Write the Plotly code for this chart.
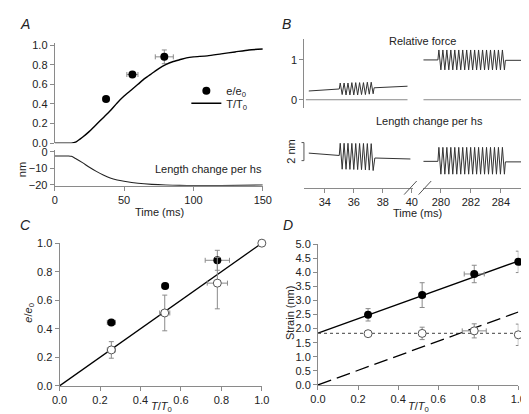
import numpy as np
import plotly.graph_objects as go

W, H = 529, 414
def X(px): return px / W
def Y(py): return 1 - py / H

FONT = "Liberation Sans"
AX = "#8a8a8a"
TXT = "#222222"
ERR = "#8a8a8a"

# ---------------- Panel A data ----------------
a_time = [0, 5, 10, 12, 15, 20, 25, 30, 35, 40, 45, 50, 55, 60, 65, 70, 75, 80,
          85, 90, 95, 100, 110, 120, 130, 140, 150]
a_force = [0, 0, 0, 0, 0.01, 0.06, 0.12, 0.19, 0.26, 0.33, 0.41, 0.48, 0.54, 0.60,
           0.66, 0.71, 0.76, 0.80, 0.83, 0.85, 0.87, 0.88, 0.89, 0.91, 0.93, 0.95, 0.96]
a_len_time = [0, 10, 12, 15, 20, 25, 30, 35, 40, 45, 50, 60, 70, 80, 90, 100, 120, 150]
a_len = [-2.5, -2.5, -2.7, -4.0, -6.5, -9.3, -11.8, -14.0, -15.8, -17.0, -17.8,
         -19.0, -19.7, -20.1, -20.3, -20.4, -20.4, -20.1]
a_pt_t = [37, 56, 79]
a_pt_e = [0.45, 0.70, 0.88]
a_pt_terr = [2, 4, 6.5]
a_pt_eerr = [0.01, 0.015, 0.07]

# ---------------- Panel B data ----------------
# left window (ms)
bl_pre_t = [32.9, 35.0]
bl_force_pre = [0.22, 0.27]
bl_force_osc = [0.42, 0.13, 0.42, 0.12, 0.42, 0.12, 0.43, 0.12, 0.43, 0.12,
                0.43, 0.13, 0.43, 0.13, 0.44, 0.14, 0.44, 0.15]
bl_post_t = [37.4, 39.7]
bl_force_post = [0.30, 0.34]
bl_len_pre = [0.83, 0.57]
bl_len_osc = [1.92, -0.95, 1.92, -0.96, 1.92, -0.97, 1.91, -0.98, 1.90, -0.99,
              1.90, -1.00, 1.90, -1.02, 1.89, -1.05, 1.88, -1.10]
bl_len_post_t = [37.45, 39.9]
bl_len_post = [0.29, 0.18]
bl_osc_window = [35.0, 37.4]
bl_zero_t = [32.7, 39.7]

# right window (ms)
br_pre_t = [278.65, 279.8]
br_force_pre = [1.0, 1.0]
br_force_osc = [1.25, 0.75] * 17
br_post_t = [284.3, 285.35]
br_force_post = [0.99, 0.99]
br_len_pre = [-0.08, -0.08]
br_len_osc = [1.47, -1.50] * 17
br_len_post = [-0.14, -0.14]
br_osc_window = [279.8, 284.3]
br_zero_t = [278.7, 285.4]

# ---------------- Panel C data ----------------
c_fill_x = [0.256, 0.522, 0.78]
c_fill_y = [0.445, 0.70, 0.88]
c_fill_xerr = [0.02, 0.016, 0.06]
c_fill_yerr = [0.01, 0.02, 0.07]
c_open_x = [0.256, 0.52, 0.78, 1.0]
c_open_y = [0.252, 0.511, 0.72, 1.0]
c_open_xerr = [0.02, 0.025, 0.05, 0]
c_open_yerr = [0.058, 0.125, 0.18, 0]
c_line_x = [0, 1]
c_line_y = [0, 1]

# ---------------- Panel D data ----------------
d_fill_x = [0.25, 0.52, 0.78, 1.0]
d_fill_y = [2.49, 3.19, 3.94, 4.37]
d_fill_xerr = [0.012, 0.015, 0.05, 0]
d_fill_yerr = [0.22, 0.44, 0.31, 0.38]
d_open_x = [0.25, 0.52, 0.78, 1.0]
d_open_y = [1.82, 1.83, 1.92, 1.78]
d_open_xerr = [0.015, 0.015, 0.06, 0]
d_open_yerr = [0.03, 0.22, 0.25, 0.38]
d_fit_x = [0, 1]
d_fit_y = [1.84, 4.40]
d_dot_y = [1.83, 1.83]
d_dash_y = [0, 2.59]


def osc_times(window, vals):
    n = len(vals)
    step = (window[1] - window[0]) / n
    return [window[0] + (k + 0.5) * step for k in range(n)]


def osc_trace(pre_t, pre_v, window, osc_v, post_t, post_v):
    t = list(pre_t) + osc_times(window, osc_v) + list(post_t)
    v = list(pre_v) + list(osc_v) + list(post_v)
    return t, v


fig = go.Figure()

# ---- A ----
fig.add_trace(go.Scatter(
    x=a_pt_t, y=a_pt_e, mode="markers", name="e/e<sub>0</sub>",
    marker=dict(color="black", size=8),
    error_x=dict(type="data", array=a_pt_terr, color=ERR, thickness=1, width=2.5),
    error_y=dict(type="data", array=a_pt_eerr, color=ERR, thickness=1, width=2.5),
    xaxis="x", yaxis="y", showlegend=True, legend="legend", cliponaxis=False))
fig.add_trace(go.Scatter(
    x=a_time, y=a_force, mode="lines", name="T/T<sub>0</sub>",
    line=dict(color="black", width=1.4, shape="spline", smoothing=0.6),
    xaxis="x", yaxis="y", showlegend=True, legend="legend2"))
fig.add_trace(go.Scatter(
    x=a_len_time, y=a_len, mode="lines",
    line=dict(color="#222", width=1.1, shape="spline", smoothing=0.6),
    xaxis="x2", yaxis="y2", showlegend=False))

# ---- B ----
TR = dict(color="#333", width=1)
t, v = osc_trace(bl_pre_t, bl_force_pre, bl_osc_window, bl_force_osc, bl_post_t, bl_force_post)
fig.add_trace(go.Scatter(x=t, y=v, mode="lines", line=TR, xaxis="x3", yaxis="y3", showlegend=False))
fig.add_trace(go.Scatter(x=bl_zero_t, y=[0, 0], mode="lines", line=dict(color=AX, width=1),
                         xaxis="x3", yaxis="y3", showlegend=False))
t, v = osc_trace(bl_pre_t, bl_len_pre, bl_osc_window, bl_len_osc, bl_len_post_t, bl_len_post)
fig.add_trace(go.Scatter(x=t, y=v, mode="lines", line=TR, xaxis="x3", yaxis="y5", showlegend=False))

t, v = osc_trace(br_pre_t, br_force_pre, br_osc_window, br_force_osc, br_post_t, br_force_post)
fig.add_trace(go.Scatter(x=t, y=v, mode="lines", line=TR, xaxis="x4", yaxis="y4", showlegend=False))
fig.add_trace(go.Scatter(x=br_zero_t, y=[0, 0], mode="lines", line=dict(color=AX, width=1),
                         xaxis="x4", yaxis="y4", showlegend=False))
t, v = osc_trace(br_pre_t, br_len_pre, br_osc_window, br_len_osc, br_post_t, br_len_post)
fig.add_trace(go.Scatter(x=t, y=v, mode="lines", line=TR, xaxis="x4", yaxis="y6", showlegend=False))

# ---- C ----
fig.add_trace(go.Scatter(x=c_line_x, y=c_line_y, mode="lines", line=dict(color="black", width=1.3),
                         xaxis="x7", yaxis="y7", showlegend=False))
fig.add_trace(go.Scatter(
    x=c_fill_x, y=c_fill_y, mode="markers", marker=dict(color="black", size=8),
    error_x=dict(type="data", array=c_fill_xerr, color=ERR, thickness=1, width=2.5),
    error_y=dict(type="data", array=c_fill_yerr, color=ERR, thickness=1, width=2.5),
    xaxis="x7", yaxis="y7", showlegend=False, cliponaxis=False))
fig.add_trace(go.Scatter(
    x=c_open_x, y=c_open_y, mode="markers",
    marker=dict(color="white", size=8, line=dict(color="#555", width=1)),
    error_x=dict(type="data", array=c_open_xerr, color=ERR, thickness=1, width=2.5),
    error_y=dict(type="data", array=c_open_yerr, color=ERR, thickness=1, width=2.5),
    xaxis="x7", yaxis="y7", showlegend=False, cliponaxis=False))

# ---- D ----
fig.add_trace(go.Scatter(x=d_fit_x, y=d_fit_y, mode="lines", line=dict(color="black", width=1.3),
                         xaxis="x8", yaxis="y8", showlegend=False))
fig.add_trace(go.Scatter(x=d_fit_x, y=d_dot_y, mode="lines", line=dict(color="#666", width=1.2, dash="dot"),
                         xaxis="x8", yaxis="y8", showlegend=False))
fig.add_trace(go.Scatter(x=d_fit_x, y=d_dash_y, mode="lines",
                         line=dict(color="black", width=1.3, dash="14px,6px"),
                         xaxis="x8", yaxis="y8", showlegend=False))
fig.add_trace(go.Scatter(
    x=d_fill_x, y=d_fill_y, mode="markers", marker=dict(color="black", size=8),
    error_x=dict(type="data", array=d_fill_xerr, color=ERR, thickness=1, width=2.5),
    error_y=dict(type="data", array=d_fill_yerr, color=ERR, thickness=1, width=2.5),
    xaxis="x8", yaxis="y8", showlegend=False, cliponaxis=False))
fig.add_trace(go.Scatter(
    x=d_open_x, y=d_open_y, mode="markers",
    marker=dict(color="white", size=8, line=dict(color="#555", width=1)),
    error_x=dict(type="data", array=d_open_xerr, color=ERR, thickness=1, width=2.5),
    error_y=dict(type="data", array=d_open_yerr, color=ERR, thickness=1, width=2.5),
    xaxis="x8", yaxis="y8", showlegend=False, cliponaxis=False))


def ax(**kw):
    d = dict(showline=True, linecolor=AX, linewidth=1, ticks="outside", ticklen=4,
             tickcolor=AX, tickwidth=1, showgrid=False, zeroline=False,
             tickfont=dict(size=11, color=TXT, family=FONT))
    d.update(kw)
    return d


tick01 = [0, 0.2, 0.4, 0.6, 0.8, 1.0]
ticklab01 = ["0.0", "0.2", "0.4", "0.6", "0.8", "1.0"]
tickD = [0, 0.5, 1, 1.5, 2, 2.5, 3, 3.5, 4, 4.5, 5]

# pixel-calibrated ranges
a_top_range = [0, (133 - 30) / 101]
a_bot_range = [-20 - 1 / 1.7, 2 / 1.7]
f_px = 41.0
f_range = [(88.3 - 96.5) / f_px, (88.3 - 26) / f_px]
l_px = 9.3
l_range = [(151 - 172) / l_px, (151 - 122) / l_px]
bl_range = [34 - (319 - 298) / 15.0, 34 + (410 - 319) / 15.0]
br_range = [280 - (439 - 421) / 15.5, 280 + (529 - 439) / 15.5]

LEG = dict(xanchor="left", yanchor="top", bgcolor="rgba(0,0,0,0)",
           font=dict(size=11, family=FONT, color=TXT), itemwidth=30,
           tracegroupgap=0, borderwidth=0)

fig.update_layout(
    width=W, height=H, margin=dict(l=0, r=0, t=0, b=0),
    paper_bgcolor="white", plot_bgcolor="rgba(0,0,0,0)",
    font=dict(family=FONT, size=11, color=TXT),
    showlegend=True,
    legend=dict(x=X(176), y=Y(64), **LEG),
    legend2=dict(x=X(176), y=Y(77), **LEG),
    # A top
    xaxis=dict(domain=[X(40), X(255)], range=[0, 150], visible=False, anchor="y"),
    yaxis=ax(domain=[Y(133), Y(30)], range=a_top_range, tickvals=tick01, ticktext=ticklab01, anchor="x"),
    # A bottom
    xaxis2=ax(domain=[X(40), X(255)], range=[0, 150], tickvals=[0, 50, 100, 150], anchor="y2"),
    yaxis2=ax(domain=[Y(177), Y(140)], range=a_bot_range, tickvals=[0, -10, -20],
              ticktext=["0", "\u221210", "\u221220"], anchor="x2"),
    # B left
    xaxis3=ax(domain=[X(298), X(410)], range=bl_range, tickvals=[34, 36, 38, 40],
              anchor="free", position=Y(179)),
    yaxis3=ax(domain=[Y(96.5), Y(26)], range=f_range, tickvals=[0, 1], anchor="x3"),
    yaxis5=dict(domain=[Y(172), Y(122)], range=l_range, visible=False, anchor="x3"),
    # B right
    xaxis4=ax(domain=[X(421), X(529)], range=br_range, tickvals=[280, 282, 284],
              anchor="free", position=Y(179)),
    yaxis4=dict(domain=[Y(96.5), Y(26)], range=f_range, visible=False, anchor="x4"),
    yaxis6=dict(domain=[Y(172), Y(122)], range=l_range, visible=False, anchor="x4"),
    # C
    xaxis7=ax(domain=[X(45), X(254)], range=[0, 1], tickvals=tick01, ticktext=ticklab01, anchor="y7"),
    yaxis7=ax(domain=[Y(383), Y(236)], range=[0, 1], tickvals=tick01, ticktext=ticklab01, anchor="x7"),
    # D
    xaxis8=ax(domain=[X(312), X(519)], range=[0, 1], tickvals=tick01, ticktext=ticklab01, anchor="y8"),
    yaxis8=ax(domain=[Y(382), Y(237)], range=[0, 5], tickvals=tickD, tickformat=".1f", anchor="x8"),
)

annots = [
    dict(text="<i>A</i>", x=X(2), y=Y(10), font=dict(size=14)),
    dict(text="<i>B</i>", x=X(273), y=Y(10), font=dict(size=14)),
    dict(text="<i>C</i>", x=X(2), y=Y(217), font=dict(size=14)),
    dict(text="<i>D</i>", x=X(274), y=Y(217), font=dict(size=14)),
    dict(text="Length change per hs", x=X(199), y=Y(160), xanchor="center"),
    dict(text="nm", x=X(7), y=Y(160), xanchor="center", textangle=-90),
    dict(text="Time (ms)", x=X(148), y=Y(204), xanchor="center"),
    dict(text="Relative force", x=X(420), y=Y(28), xanchor="center"),
    dict(text="Length change per hs", x=X(427), y=Y(110), xanchor="center"),
    dict(text="2 nm", x=X(284), y=Y(142), xanchor="center", textangle=-90),
    dict(text="Time (ms)", x=X(415), y=Y(205), xanchor="center"),
    dict(text="<i>T</i>/<i>T</i><sub>0</sub>", x=X(150), y=Y(405), xanchor="center"),
    dict(text="<i>e</i>/<i>e</i><sub>0</sub>", x=X(13), y=Y(308), xanchor="center", textangle=-90),
    dict(text="<i>T</i>/<i>T</i><sub>0</sub>", x=X(416), y=Y(405), xanchor="center"),
    dict(text="Strain (nm)", x=X(283), y=Y(308), xanchor="center", textangle=-90),
]
for a in annots:
    a.setdefault("xanchor", "left")
    a.update(xref="paper", yref="paper", yanchor="middle", showarrow=False)
    a["font"] = dict(family=FONT, color=TXT, size=a.get("font", {}).get("size", 11))
    fig.add_annotation(**a)

# scale bar and axis-break marks (decorations)
shapes = [
    dict(type="line", xref="paper", yref="y5", x0=X(297.5), x1=X(297.5), y0=0, y1=2),
    dict(type="line", xref="paper", yref="y5", x0=X(295), x1=X(297.5), y0=0, y1=0),
    dict(type="line", xref="paper", yref="y5", x0=X(295), x1=X(297.5), y0=2, y1=2),
    dict(type="line", xref="paper", yref="paper", x0=X(401), x1=X(414), y0=Y(186), y1=Y(172)),
    dict(type="line", xref="paper", yref="paper", x0=X(416), x1=X(429), y0=Y(186), y1=Y(172)),
]
for s in shapes:
    s["line"] = dict(color="#555", width=1)
    fig.add_shape(**s)

fig.write_html("out.html")
